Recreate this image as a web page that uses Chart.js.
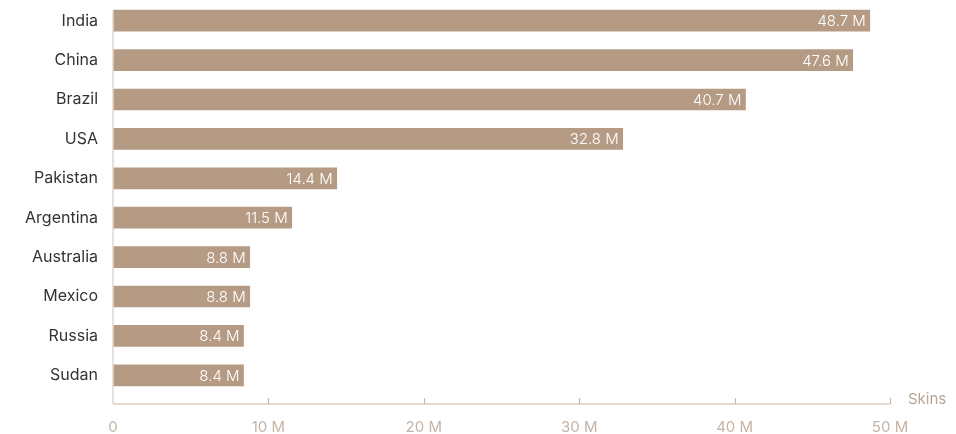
<!DOCTYPE html>
<html>
<head>
<meta charset="utf-8">
<script src="https://cdn.jsdelivr.net/npm/chart.js@4/dist/chart.umd.min.js"></script>
<style>
  html, body { margin: 0; padding: 0; background: #fff; }
  #wrap { width: 956px; height: 434px; position: relative; }
</style>
</head>
<body>
<div id="wrap"><canvas id="chart"></canvas></div>
<script>
const countries = ["India", "China", "Brazil", "USA", "Pakistan", "Argentina", "Australia", "Mexico", "Russia", "Sudan"];
const skins = [48.7, 47.6, 40.7, 32.8, 14.4, 11.5, 8.8, 8.8, 8.4, 8.4];
const xTicks = [0, 10, 20, 30, 40, 50];
const axisTitle = "Skins";

const BAR = "#b69b84";
const AXIS = "#c9b6a6";
const TICK_TEXT = "#c4b4a6";
const FONT = "Inter, 'Noto Sans', sans-serif";

/* ===============================
   CUSTOM DRAWING (axis + labels)
================================ */
const decor = {
  id: "decor",
  afterDatasetsDraw(chart) {
    const ctx = chart.ctx;
    const x = chart.scales.x;
    const area = chart.chartArea;
    const axisY = area.bottom + 9;

    // values inside bars
    ctx.save();
    ctx.font = "300 15px " + FONT;
    ctx.fillStyle = "#ffffff";
    ctx.textAlign = "right";
    ctx.textBaseline = "middle";
    chart.getDatasetMeta(0).data.forEach((bar, i) => {
      ctx.fillText(skins[i].toFixed(1) + " M", bar.x - 4, bar.y + 1);
    });
    ctx.restore();

    // left axis line
    ctx.save();
    ctx.strokeStyle = "#e2d7cd";
    ctx.lineWidth = 1.5;
    ctx.beginPath();
    ctx.moveTo(area.left, area.top + 9);
    ctx.lineTo(area.left, axisY);
    ctx.stroke();

    // bottom axis with ticks pointing up
    ctx.strokeStyle = AXIS;
    ctx.lineWidth = 1.2;
    ctx.beginPath();
    ctx.moveTo(area.left, axisY);
    ctx.lineTo(x.getPixelForValue(50), axisY);
    xTicks.forEach(v => {
      if (v === 0) return;
      const px = Math.round(x.getPixelForValue(v)) + 0.5;
      ctx.moveTo(px, axisY);
      ctx.lineTo(px, axisY - 6);
    });
    ctx.stroke();

    // axis title
    ctx.font = "15px " + FONT;
    ctx.fillStyle = "#b8a696";
    ctx.textAlign = "left";
    ctx.textBaseline = "middle";
    ctx.fillText(axisTitle, x.getPixelForValue(50) + 18, axisY - 5);
    ctx.restore();
  }
};

new Chart(document.getElementById("chart"), {
  type: "bar",
  data: {
    labels: countries,
    datasets: [{
      data: skins,
      backgroundColor: BAR,
      barThickness: 21
    }]
  },
  options: {
    indexAxis: "y",
    responsive: true,
    maintainAspectRatio: false,
    animation: false,
    layout: { padding: { top: 1, right: 66, left: 0, bottom: 0 } },
    plugins: {
      legend: { display: false },
      tooltip: { enabled: false }
    },
    scales: {
      x: {
        min: 0,
        max: 50,
        afterBuildTicks: s => { s.ticks = xTicks.map(v => ({ value: v })); },
        afterFit: s => { s.height = 39; s.paddingLeft = 0; s.paddingRight = 0; },
        grid: { display: false, drawTicks: false },
        border: { display: false },
        ticks: {
          color: TICK_TEXT,
          font: { family: FONT, size: 15 },
          padding: 23,
          maxRotation: 0,
          callback: v => v === 0 ? "0" : v + " M"
        }
      },
      y: {
        afterFit: s => { s.width = 113; s.paddingTop = 0; s.paddingBottom = 0; },
        grid: { display: false, drawTicks: false },
        border: { display: false },
        ticks: {
          color: "#333333",
          font: { family: FONT, size: 16 },
          padding: 15
        }
      }
    }
  },
  plugins: [decor]
});
</script>
</body>
</html>
